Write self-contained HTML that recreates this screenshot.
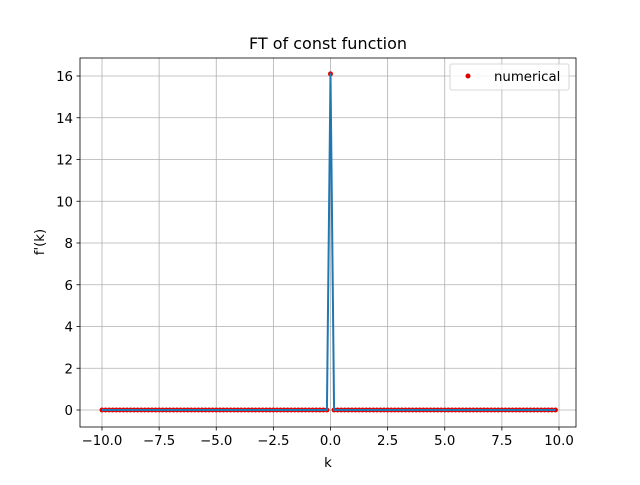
<!DOCTYPE html>
<html><head><meta charset="utf-8"><style>
body{margin:0;background:#fff;}
svg text{font-family:"DejaVu Sans","Liberation Sans",sans-serif;}
</style></head><body>
<svg id="chart" width="640" height="480" viewBox="0 0 640 480">
<rect width="640" height="480" fill="#fff"/>
<g id="grid"></g>
<g id="series"></g>
<g id="axes"></g>
</svg>
<script>
const xTicks=[-10,-7.5,-5,-2.5,0,2.5,5,7.5,10];
const xTickLabels=["\u221210.0","\u22127.5","\u22125.0","\u22122.5","0.0","2.5","5.0","7.5","10.0"];
const yTicks=[0,2,4,6,8,10,12,14,16];
const kStart=-10, kStep=20/128;
const values=[0,0,0,0,0,0,0,0,0,0,0,0,0,0,0,0,0,0,0,0,0,0,0,0,0,0,0,0,0,0,0,0,
0,0,0,0,0,0,0,0,0,0,0,0,0,0,0,0,0,0,0,0,0,0,0,0,0,0,0,0,0,0,0,0,
16.1,0,0,0,0,0,0,0,0,0,0,0,0,0,0,0,0,0,0,0,0,0,0,0,0,0,0,0,0,0,0,0,
0,0,0,0,0,0,0,0,0,0,0,0,0,0,0,0,0,0,0,0,0,0,0,0,0,0,0,0,0,0,0,0];
const L=80,R=576,T=58,B=427;
const xs=v=>102+(v+10)*(559-102)/20;
const ys=v=>410-v*(410-76)/16;
const NS="http://www.w3.org/2000/svg";
function mk(tag,attrs,parent,txt){const e=document.createElementNS(NS,tag);for(const k in attrs)e.setAttribute(k,attrs[k]);if(txt!==undefined)e.textContent=txt;parent.appendChild(e);return e;}
const grid=document.getElementById('grid'),axes=document.getElementById('axes'),series=document.getElementById('series');
xTicks.forEach((t,i)=>{const x=xs(t);
 const g=mk('line',{x1:x,x2:x,y1:T,y2:B,stroke:'#b0b0b0','stroke-width':0.8},grid);
 
 
 mk('line',{x1:x,x2:x,y1:B,y2:B+3.5,stroke:'#000','stroke-width':0.8},axes);
 const tl=mk('text',{x:x,y:B+18,'font-size':13.3,'text-anchor':'middle',fill:'#000'},axes,xTickLabels[i]);
 
 
});
yTicks.forEach(t=>{const y=ys(t);
 const g=mk('line',{x1:L,x2:R,y1:y,y2:y,stroke:'#b0b0b0','stroke-width':0.8},grid);
 
 
 mk('line',{x1:L-3.5,x2:L,y1:y,y2:y,stroke:'#000','stroke-width':0.8},axes);
 const tl=mk('text',{x:L-7,y:y+5,'font-size':13.3,'text-anchor':'end',fill:'#000'},axes,String(t));
 
 
});
values.forEach((v,i)=>{const c=mk('circle',{cx:xs(kStart+i*kStep),cy:ys(v),r:2.5,fill:'#e00000'},series);
 
 
});
const pts=values.map((v,i)=>xs(kStart+i*kStep).toFixed(2)+','+ys(v).toFixed(2)).join(' ');
const pl=mk('polyline',{points:pts,fill:'none',stroke:'#1f77b4','stroke-width':2,'stroke-linejoin':'round'},series);


const fr=mk('rect',{x:L,y:T,width:R-L,height:B-T,fill:'none',stroke:'#000','stroke-width':0.8},axes);


const ti=mk('text',{x:328,y:49,'font-size':16,'text-anchor':'middle'},axes,'FT of const function');


const xl=mk('text',{x:328,y:467,'font-size':13.3,'text-anchor':'middle'},axes,'k');


const yl=mk('text',{x:44,y:242,'font-size':13.3,'text-anchor':'middle',transform:'rotate(-90 44 242)'},axes,"f'(k)");


const lg=mk('g',{},axes);


mk('rect',{x:450,y:64,width:119,height:26,rx:2,fill:'#fff','fill-opacity':0.8,stroke:'#ccc','stroke-width':0.8},lg);
mk('circle',{cx:468,cy:76,r:2.5,fill:'#e00000'},lg);
const le=mk('text',{x:494,y:81,'font-size':13.3},lg,'numerical');


</script>
</body></html>
